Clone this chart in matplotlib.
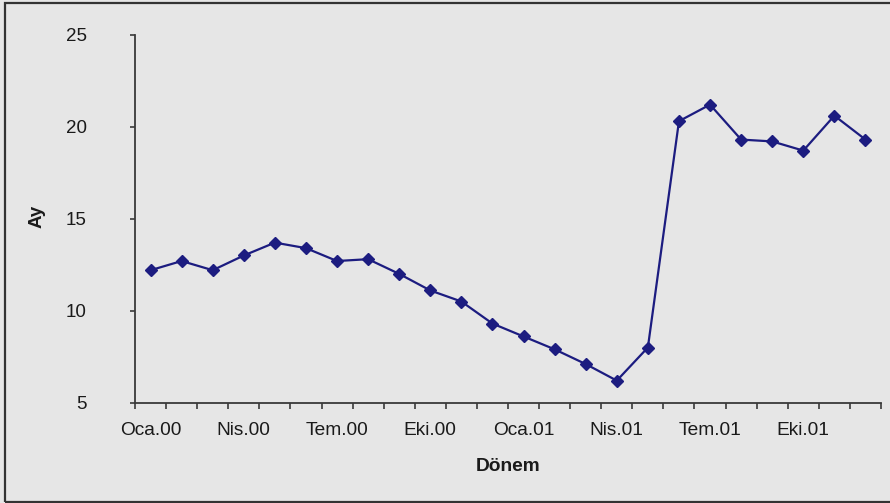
import matplotlib
matplotlib.use("Agg")
import matplotlib.pyplot as plt
from matplotlib.patches import Rectangle

plt.rcParams['font.family'] = ['Liberation Sans', 'DejaVu Sans']

# Monthly periods, Jan 2000 - Dec 2001 (Turkish abbreviations)
months = ["Oca", "Şub", "Mar", "Nis", "May", "Haz",
          "Tem", "Ağu", "Eyl", "Eki", "Kas", "Ara"]
periods = [f"{m}.{y}" for y in ("00", "01") for m in months]

# Values (months)
values = [12.2, 12.7, 12.2, 13.0, 13.7, 13.4, 12.7, 12.8, 12.0, 11.1, 10.5, 9.3,
          8.6, 7.9, 7.1, 6.2, 8.0, 20.3, 21.2, 19.3, 19.2, 18.7, 20.6, 19.3]

y_ticks = [5, 10, 15, 20, 25]

bg = "#E6E6E6"
line_color = "#1C1C80"
axis_color = "#3A3A3A"
text_color = "#1A1A1A"

W, H = 890, 503
fig = plt.figure(figsize=(W / 100, H / 100), dpi=100, facecolor=bg)

left_px, right_px = 135, 881
top_px, bottom_px = 34.7, 402.7
ax = fig.add_axes([left_px / W, 1 - bottom_px / H,
                   (right_px - left_px) / W, (bottom_px - top_px) / H])
ax.set_facecolor(bg)

x = list(range(len(periods)))
ax.plot(x, values, color=line_color, lw=1.6, marker="D", ms=6.5,
        markerfacecolor=line_color, markeredgecolor=line_color, clip_on=False)

ax.set_xlim(-0.5, len(periods) - 0.5)
ax.set_ylim(5, 25)

for side in ("top", "right"):
    ax.spines[side].set_visible(False)
for side in ("left", "bottom"):
    ax.spines[side].set_color(axis_color)
    ax.spines[side].set_linewidth(1.3)

# y axis
ax.set_yticks(y_ticks)
ax.set_yticklabels([str(v) for v in y_ticks])
ax.tick_params(axis="y", direction="out", length=3.8, width=1.2, color=axis_color,
               pad=31, labelsize=13.5, labelcolor=text_color)

# x axis: tick marks on category boundaries, labels every third month
ax.set_xticks([i - 0.5 for i in range(len(periods) + 1)])
ax.set_xticklabels([])
ax.set_xticks(x[::3], minor=True)
ax.set_xticklabels(periods[::3], minor=True)
ax.tick_params(axis="x", which="major", direction="out", length=4.5, width=1.2,
               color=axis_color)
ax.tick_params(axis="x", which="minor", length=0, pad=14, labelsize=13.8,
               labelcolor=text_color)

fig.text(37 / W, 1 - 216.7 / H, "Ay", rotation=90, ha="center", va="center",
         fontsize=13.5, fontweight="bold", color=text_color)
fig.text(508 / W, 1 - 466.7 / H, "Dönem", ha="center", va="center",
         fontsize=13.8, fontweight="bold", color=text_color)

# outer frame
fig.add_artist(Rectangle((4.5 / W, 1 - 501.5 / H), 1.0, (501.5 - 2.5) / H,
                         transform=fig.transFigure, fill=False,
                         edgecolor="#333333", lw=1.6))

fig.savefig("out.png", dpi=100, facecolor=bg)
